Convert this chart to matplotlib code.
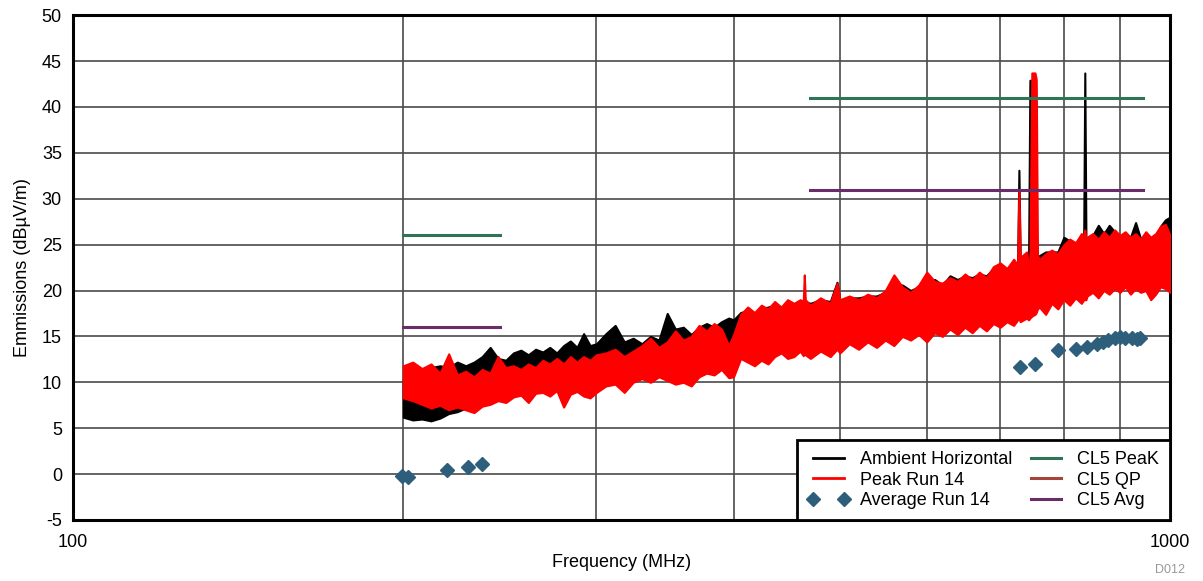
import matplotlib
matplotlib.use("Agg")
import matplotlib.pyplot as plt
from matplotlib.lines import Line2D

plt.rcParams['font.family'] = ['Liberation Sans', 'DejaVu Sans']
plt.rcParams['axes.unicode_minus'] = False

freq = [200, 204, 208, 212, 216, 220, 224, 228, 232, 236, 240, 244, 248, 252, 256, 260,
        264, 268, 272, 276, 280, 284, 288, 292, 296, 300,
        306, 312, 318, 324, 330, 336, 342, 348, 354, 360, 366, 372, 378, 384, 390, 396, 400,
        406, 412, 418, 424, 430, 436, 442, 448, 454, 460, 463, 464, 465, 470, 480, 490, 497, 500,
        510, 520, 530, 540, 550, 560, 570, 580, 590, 600, 610, 620, 630, 640, 650, 660, 670, 680, 690, 700,
        710, 720, 726, 728, 730, 740, 743, 745, 748, 750, 753, 755, 757, 760, 770, 780, 790, 800,
        810, 820, 830, 834, 836, 838, 840, 850, 860, 870, 880, 890, 900, 910, 920, 930, 940, 950,
        960, 970, 980, 990, 1000]

# Peak Run 14 (red) - lower / upper edge of the noise band, dBuV/m
peak_lo = [8.3, 8.0, 7.6, 7.2, 7.5, 7.0, 7.3, 7.0, 6.7, 7.4, 7.6, 8.0, 7.8, 8.4, 8.6, 7.8,
           8.8, 8.9, 8.5, 9.1, 7.3, 8.7, 9.0, 8.5, 8.3, 8.9,
           9.6, 9.8, 8.9, 10.0, 10.4, 10.0, 10.6, 10.2, 9.8, 10.0, 9.6, 10.6, 11.0, 10.8, 11.4, 10.5, 10.6,
           12.6, 12.2, 11.8, 12.4, 12.0, 12.8, 13.2, 12.6, 12.8, 13.4, 12.9, 13.2, 13.0, 12.6, 13.4, 12.8, 13.6, 13.2,
           14.2, 13.6, 14.4, 13.8, 14.6, 14.0, 15.0, 14.6, 15.2, 14.4, 15.4, 15.0, 15.8, 15.2, 16.0, 15.4, 16.2, 15.6, 16.4, 16.0,
           16.6, 16.2, 16.8, 17.0, 16.6, 17.0, 16.8, 17.0, 17.2, 17.3, 17.4, 17.6, 18.0, 18.2, 17.4, 18.6, 18.0, 19.0,
           18.4, 19.2, 18.6, 19.0, 19.0, 19.0, 19.4, 19.8, 19.2, 20.0, 19.6, 20.2, 19.8, 20.4, 19.6, 20.2, 19.8, 20.0,
           19.0, 19.6, 20.4, 20.2, 19.8]
peak_hi = [11.8, 12.2, 11.5, 12.0, 11.0, 13.1, 10.8, 11.2, 10.6, 11.4, 11.0, 12.8, 11.6, 11.8, 11.4, 12.0,
           11.6, 12.4, 12.0, 12.6, 12.0, 12.8, 12.2, 12.8, 12.4, 13.0,
           13.2, 13.6, 12.8, 13.4, 14.0, 14.8, 13.8, 14.4, 15.6, 14.6, 15.0, 16.2, 15.6, 16.4, 15.8, 14.0, 15.2,
           17.4, 18.2, 17.6, 18.4, 18.0, 18.8, 18.2, 19.0, 18.6, 19.0, 18.8, 21.7, 19.0, 18.4, 19.2, 18.6, 20.8, 19.0,
           19.4, 19.0, 19.6, 19.2, 20.0, 21.7, 20.4, 19.8, 20.6, 22.0, 21.0, 20.8, 21.4, 21.0, 21.8, 21.2, 22.0, 21.4, 22.6, 23.0,
           22.4, 23.4, 22.8, 31.0, 23.6, 24.2, 22.6, 23.0, 43.7, 43.7, 43.7, 43.0, 23.8, 23.4, 24.0, 24.4, 24.0, 25.0,
           25.6, 25.2, 26.2, 25.8, 26.6, 25.6, 25.8, 26.2, 25.6, 26.4, 25.8, 26.6, 26.0, 26.4, 25.8, 26.2, 25.6, 26.4,
           25.8, 26.2, 27.0, 27.2, 26.0]

# Ambient Horizontal (black)
amb_lo = [6.2, 5.9, 6.0, 5.8, 6.1, 6.6, 6.8, 7.2, 7.0, 7.6, 7.9, 8.3, 8.1, 8.7, 8.9, 8.1,
          9.1, 9.2, 8.8, 9.4, 7.6, 9.0, 9.3, 8.8, 8.6, 9.2,
          9.9, 10.1, 9.2, 10.3, 10.7, 10.3, 10.9, 10.5, 10.1, 10.3, 9.9, 10.9, 11.3, 11.1, 11.7, 10.8, 10.9,
          12.9, 12.5, 12.1, 12.7, 12.3, 13.1, 13.5, 12.9, 13.1, 13.7, 13.2, 13.5, 13.3, 12.9, 13.7, 13.1, 13.9, 13.5,
          14.5, 13.9, 14.7, 14.1, 14.9, 14.3, 15.3, 14.9, 15.5, 14.7, 15.7, 15.3, 16.1, 15.5, 16.3, 15.7, 16.5, 15.9, 16.7, 16.3,
          16.9, 16.5, 17.1, 17.3, 16.9, 17.3, 17.1, 17.3, 17.5, 17.6, 17.7, 17.9, 18.3, 18.5, 17.7, 18.9, 18.3, 19.3,
          18.7, 19.5, 18.9, 19.3, 19.3, 19.3, 19.7, 20.1, 19.5, 20.3, 19.9, 20.5, 20.1, 20.7, 19.9, 20.5, 20.1, 20.3,
          19.3, 19.9, 20.7, 20.5, 20.1]
amb_hi = [10.2, 10.6, 11.0, 11.6, 11.8, 11.6, 12.2, 11.8, 12.2, 12.8, 13.8, 12.6, 12.4, 13.2, 13.5, 13.0,
          13.6, 13.3, 13.8, 13.2, 14.0, 14.5, 13.8, 15.3, 14.0, 14.2,
          15.3, 16.2, 14.4, 14.8, 14.2, 15.0, 14.6, 17.5, 15.8, 16.0, 15.2, 16.0, 16.4, 16.0, 16.6, 17.0, 16.8,
          17.6, 17.8, 17.4, 18.0, 18.2, 18.4, 18.0, 18.6, 18.4, 18.8, 18.6, 18.8, 18.8, 18.6, 19.0, 18.8, 20.9, 18.8,
          19.2, 19.2, 19.4, 19.4, 19.8, 20.6, 20.6, 20.0, 20.4, 21.0, 21.2, 20.6, 21.6, 21.2, 21.6, 21.4, 21.8, 21.6, 22.4, 22.8,
          22.2, 23.0, 22.6, 33.1, 23.4, 24.0, 24.0, 42.9, 42.9, 24.0, 23.6, 23.6, 23.6, 23.8, 24.2, 24.2, 24.2, 25.8,
          25.4, 25.0, 25.8, 25.6, 43.7, 25.4, 25.6, 26.0, 27.1, 26.2, 27.1, 26.4, 25.8, 26.2, 25.8, 27.4, 25.6, 26.2,
          25.6, 26.0, 27.0, 27.7, 28.0]

# Average Run 14 (diamonds)
avg_freq = [199.5, 202, 219, 229, 236,
            730, 753, 790, 821, 840, 858, 869, 878, 891, 900, 910, 923, 933, 939]
avg_val = [-0.2, -0.3, 0.5, 0.8, 1.1,
           11.7, 12.0, 13.5, 13.6, 13.8, 14.2, 14.4, 14.6, 14.8, 14.9, 14.8, 14.8, 14.7, 14.8]

# CISPR 25 class 5 limits
lim_bands = [(200, 245), (470, 944)]
cl5_peak = [26, 41]
cl5_avg = [16, 31]

green = '#2F7455'
brown = '#A5433D'
purple = '#6B2C6A'
diamond = '#2D5F7C'
fs = 13

fig = plt.figure(figsize=(12.03, 5.81), dpi=100)
ax = fig.add_axes([0.0607, 0.105, 0.912, 0.869])

ax.fill_between(freq, amb_lo, amb_hi, color='black', lw=1.5, zorder=3)
ax.fill_between(freq, peak_lo, peak_hi, color='#FF0000', lw=1.5, zorder=4)

for (f0, f1), pk, av in zip(lim_bands, cl5_peak, cl5_avg):
    ax.plot([f0, f1], [pk, pk], color=green, lw=2.2, zorder=5)
    ax.plot([f0, f1], [av, av], color=purple, lw=2.2, zorder=5)

ax.plot(avg_freq, avg_val, 'D', color=diamond, ms=7, zorder=6)

ax.set_xscale('log')
ax.set_xlim(100, 1000)
ax.set_ylim(-5, 50)
ax.set_xticks([100, 1000])
ax.set_xticklabels(['100', '1000'])
ax.set_xticks([200, 300, 400, 500, 600, 700, 800, 900], minor=True)
ax.xaxis.set_minor_formatter(plt.NullFormatter())
ax.set_yticks(range(-5, 51, 5))
ax.tick_params(which='both', length=0, labelsize=fs, colors='black')
ax.tick_params(axis='x', pad=10)
ax.tick_params(axis='y', pad=8)
ax.grid(True, which='both', color='#4a4a4a', lw=1.2)
ax.set_axisbelow(True)
for s in ax.spines.values():
    s.set_linewidth(2.2)

ax.set_xlabel('Frequency (MHz)', fontsize=fs, labelpad=2)
ax.set_ylabel('Emmissions (dB\u00b5V/m)', fontsize=fs, labelpad=8)

handles = [Line2D([], [], color='black', lw=2),
           Line2D([], [], color='#FF0000', lw=2),
           Line2D([], [], color=diamond, marker='D', ls='none', ms=7),
           Line2D([], [], color=green, lw=2.2),
           Line2D([], [], color=brown, lw=2.2),
           Line2D([], [], color=purple, lw=2.2)]
labels = ['Ambient Horizontal', 'Peak Run 14', 'Average Run 14',
          'CL5 PeaK', 'CL5 QP', 'CL5 Avg']
leg = ax.legend(handles, labels, ncol=2, loc='lower right', bbox_to_anchor=(1, 0),
                borderaxespad=0, fontsize=fs, fancybox=False, framealpha=1,
                edgecolor='black', handlelength=2.3, handletextpad=0.6,
                columnspacing=0.7, numpoints=2, labelspacing=0.2, borderpad=0.6)
leg.get_frame().set_linewidth(2)
leg.set_zorder(10)

fig.text(0.985, 0.008, 'D012', color='#999999', fontsize=9, ha='right', va='bottom')

fig.savefig('out.png', dpi=100)
